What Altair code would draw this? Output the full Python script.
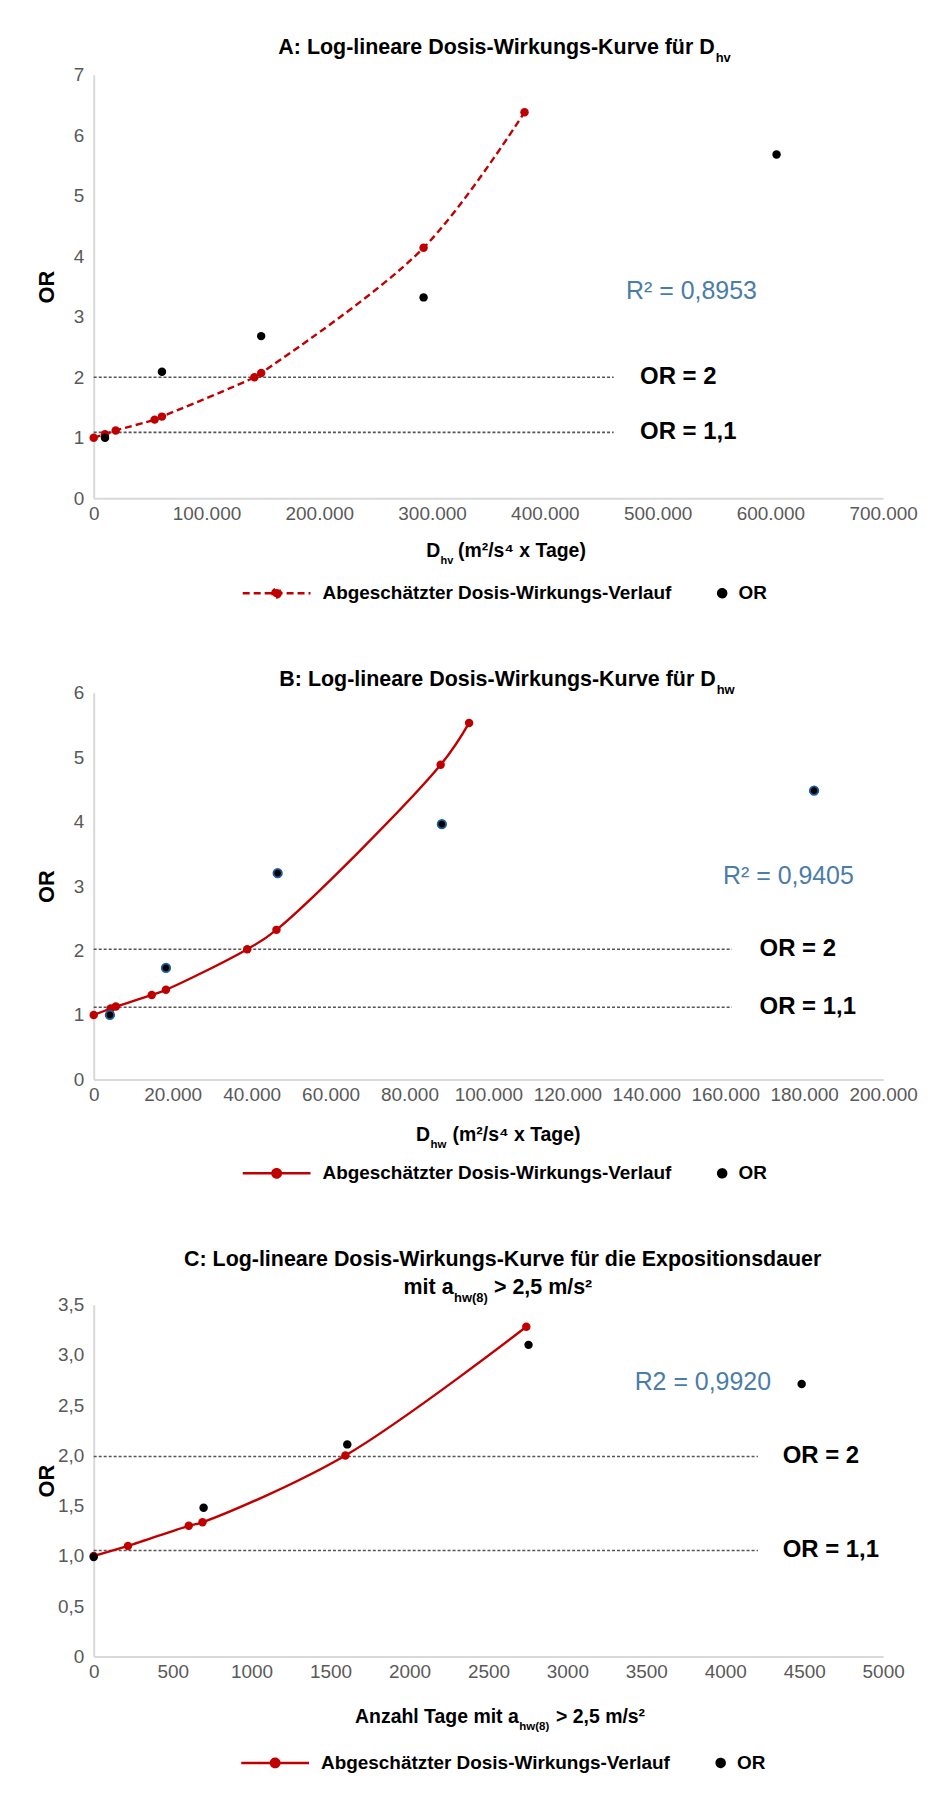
import altair as alt
import pandas as pd

FONT = "Liberation Sans, Arial, sans-serif"
RED = "#C00000"
BLUE_TXT = "#4A7DA8"
PT_BLUE = "#1F5C99"
GRAY = "#595959"
AXIS_GRAY = "#D9D9D9"
SER = "Abgeschätzter Dosis-Wirkungs-Verlauf"

# ---------------- Panel A data ----------------
a_curve_x = [0, 10000, 19500, 54000, 60500, 142500, 148500, 292500, 382000]
a_curve_y = [1.00, 1.06, 1.12, 1.30, 1.35, 2.00, 2.07, 4.14, 6.38]
a_or_x = [10000, 60500, 148500, 292500, 605500]
a_or_y = [1.00, 2.09, 2.68, 3.32, 5.68]
a_ref_y = [2.0, 1.09]
a_ref_labels = ["OR = 2", "OR = 1,1"]
a_ref_end = 461000
a_ref_label_x = 484500
a_r2 = ["R² = 0,8953"]
a_r2_x = [530000]
a_r2_y = [3.43]
a_xticks = [0, 100000, 200000, 300000, 400000, 500000, 600000, 700000]
a_yticks = [0, 1, 2, 3, 4, 5, 6, 7]

# ---------------- Panel B data ----------------
b_curve_x = [0, 4300, 5600, 14700, 18300, 38900, 46300, 87900, 95100]
b_curve_y = [1.00, 1.10, 1.13, 1.31, 1.39, 2.02, 2.32, 4.88, 5.53]
b_or_x = [4100, 18300, 46600, 88200, 182500]
b_or_y = [1.00, 1.73, 3.20, 3.96, 4.48]
b_ref_y = [2.02, 1.12]
b_ref_labels = ["OR = 2", "OR = 1,1"]
b_ref_end = 161700
b_ref_label_x = 168700
b_r2 = ["R² = 0,9405"]
b_r2_x = [176000]
b_r2_y = [3.16]
b_xticks = [0, 20000, 40000, 60000, 80000, 100000, 120000, 140000, 160000, 180000, 200000]
b_yticks = [0, 1, 2, 3, 4, 5, 6]

# ---------------- Panel C data ----------------
c_curve_x = [0, 217, 602, 689, 1594, 2740]
c_curve_y = [1.00, 1.10, 1.30, 1.335, 2.00, 3.28]
c_or_x = [0, 696, 1606, 2754, 4484]
c_or_y = [0.99, 1.48, 2.11, 3.10, 2.71]
c_ref_y = [1.99, 1.055]
c_ref_labels = ["OR = 2", "OR = 1,1"]
c_ref_end = 4207
c_ref_label_x = 4364
c_r2 = ["R2 = 0,9920"]
c_r2_x = [3858]
c_r2_y = [2.73]
c_xticks = [0, 500, 1000, 1500, 2000, 2500, 3000, 3500, 4000, 4500, 5000]
c_yticks = [0, 0.5, 1.0, 1.5, 2.0, 2.5, 3.0, 3.5]

W = 792
# legend symbols (unit paths scaled by sqrt(size)/2 = 10 px)
LINE_PATH = "M-6.35,0H0.45M-2.53,0A0.42,0.42,0,1,1,-3.37,0A0.42,0.42,0,1,1,-2.53,0"
DOT_PATH = "M0.4,0A0.4,0.4,0,1,1,-0.4,0A0.4,0.4,0,1,1,0.4,0"

DE_THOUSANDS = "replace(format(datum.value, ','), ',', '.')"
DE_DECIMAL = "datum.value == 0 ? '0' : replace(format(datum.value, '.1f'), '.', ',')"


def make_legend(dashed, lx, ly):
    dash = "[7,4]" if dashed else "[1,0]"
    return alt.Legend(
        title=None,
        orient="none",
        legendX=lx,
        legendY=ly,
        direction="horizontal",
        symbolType={"expr": f"datum.value === 'OR' ? '{DOT_PATH}' : '{LINE_PATH}'"},
        symbolSize=400,
        symbolStrokeColor={"expr": f"datum.value === 'OR' ? '#000000' : '{RED}'"},
        symbolDash={"expr": f"datum.value === 'OR' ? [1,0] : {dash}"},
        symbolStrokeWidth=2.5,
        symbolOpacity=1,
        labelFont=FONT,
        labelFontSize=19,
        labelFontWeight="bold",
        labelColor="black",
        labelOffset=5,
        labelLimit=0,
        columnPadding=38.5,
        padding=0,
    )


def panel(curve_x, curve_y, or_x, or_y, ref_y, ref_labels, ref_end, ref_label_x,
          r2, r2_x, r2_y, xticks, xlabel_expr, xformat, yticks, ylabel_expr,
          H, dashed, or_outline, title_parts, xtitle_parts, legend_xy):
    xdom = [xticks[0], xticks[-1]]
    ydom = [yticks[0], yticks[-1]]

    xaxis = alt.Axis(
        values=xticks, title=None, grid=False, ticks=False,
        domainColor=AXIS_GRAY, domainWidth=2,
        labelFont=FONT, labelFontSize=19, labelColor=GRAY, labelPadding=6,
        labelFlush=False, labelOverlap=False, labelBound=False,
        **({"labelExpr": xlabel_expr} if xlabel_expr else {"format": xformat}),
    )
    yaxis = alt.Axis(
        values=yticks, title="OR", grid=False, ticks=False,
        domainColor=AXIS_GRAY, domainWidth=2,
        labelFont=FONT, labelFontSize=19, labelColor=GRAY, labelPadding=10,
        labelExpr=ylabel_expr,
        titleFont=FONT, titleFontSize=22, titleFontWeight="bold", titleColor="black",
        titleAngle=270, titleX=-40, titleY=H / 2, titleAlign="center",
        titleBaseline="alphabetic",
    )

    def xenc(f):
        return alt.X(f, scale=alt.Scale(domain=xdom, nice=False, zero=True), axis=xaxis)

    def yenc(f):
        return alt.Y(f, scale=alt.Scale(domain=ydom, nice=False, zero=True), axis=yaxis)

    pts = pd.DataFrame({
        "x": curve_x + or_x,
        "y": curve_y + or_y,
        "series": [SER] * len(curve_x) + ["OR"] * len(or_x),
    })
    curve = pd.DataFrame({"x": curve_x, "y": curve_y})
    ors = pd.DataFrame({"x": or_x, "y": or_y})
    refs = pd.DataFrame({
        "y": ref_y, "x0": [0] * len(ref_y), "x1": [ref_end] * len(ref_y),
        "lx": [ref_label_x] * len(ref_y), "label": ref_labels,
    })
    r2df = pd.DataFrame({"x": r2_x, "y": r2_y, "t": r2})

    cscale = alt.Scale(domain=[SER, "OR"], range=[RED, "#000000"])

    rules = alt.Chart(refs).mark_rule(color="#555555", strokeWidth=1.6, strokeDash=[3, 2]).encode(
        x=xenc("x0:Q"), x2="x1:Q", y=yenc("y:Q"))

    line_kw = dict(color=RED, strokeWidth=2.4, interpolate="catmull-rom")
    if dashed:
        line_kw["strokeDash"] = [7, 4]
    line = alt.Chart(curve).mark_line(**line_kw).encode(x=xenc("x:Q"), y=yenc("y:Q"))

    points = alt.Chart(pts).mark_point(filled=True, size=72, opacity=1).encode(
        x=xenc("x:Q"), y=yenc("y:Q"),
        color=alt.Color("series:N", scale=cscale,
                        legend=make_legend(dashed, legend_xy[0], legend_xy[1])))

    layers = [rules, line, points]
    if or_outline:
        layers.append(alt.Chart(ors).mark_point(
            filled=True, size=72, opacity=1, fill="#000000", stroke=PT_BLUE, strokeWidth=1.8
        ).encode(x=xenc("x:Q"), y=yenc("y:Q")))

    layers.append(alt.Chart(refs).mark_text(
        align="left", baseline="middle", font=FONT, fontSize=24, fontWeight="bold", color="black"
    ).encode(x=xenc("lx:Q"), y=yenc("y:Q"), text="label:N"))

    layers.append(alt.Chart(r2df).mark_text(
        align="center", baseline="middle", font=FONT, fontSize=25, color=BLUE_TXT
    ).encode(x=xenc("x:Q"), y=yenc("y:Q"), text="t:N"))

    for txt, px, py, al, fs in title_parts + xtitle_parts:
        layers.append(alt.Chart(pd.DataFrame({"t": [txt]})).mark_text(
            align=al, baseline="alphabetic", font=FONT, fontSize=fs, fontWeight="bold", color="black"
        ).encode(x=alt.value(px), y=alt.value(py), text="t:N"))

    return alt.layer(*layers).properties(width=W, height=H)


HA, HB, HC = 425, 388, 353

chartA = panel(
    a_curve_x, a_curve_y, a_or_x, a_or_y, a_ref_y, a_ref_labels, a_ref_end, a_ref_label_x,
    a_r2, a_r2_x, a_r2_y, a_xticks, DE_THOUSANDS, None, a_yticks, "format(datum.value, 'd')",
    HA, True, False,
    [("A: Log-lineare Dosis-Wirkungs-Kurve für D", 623, -20.6, "right", 21.5),
     ("hv", 624, -13, "left", 13)],
    [("D", 347.6, HA + 58.5, "right", 19.5),
     ("hv", 348, HA + 65.6, "left", 11),
     ("(m²/s⁴ x Tage)", 365.4, HA + 58.5, "left", 19.5)],
    (201.5, 508.5),
)

chartB = panel(
    b_curve_x, b_curve_y, b_or_x, b_or_y, b_ref_y, b_ref_labels, b_ref_end, b_ref_label_x,
    b_r2, b_r2_x, b_r2_y, b_xticks, DE_THOUSANDS, None, b_yticks, "format(datum.value, 'd')",
    HB, False, True,
    [("B: Log-lineare Dosis-Wirkungs-Kurve für D", 624, -7, "right", 21.5),
     ("hw", 625, 1, "left", 13)],
    [("D", 337.5, HB + 62, "right", 19.5),
     ("hw", 338, HB + 69, "left", 11.5),
     ("(m²/s⁴ x Tage)", 360, HB + 62, "left", 19.5)],
    (201.5, 470.5),
)

chartC = panel(
    c_curve_x, c_curve_y, c_or_x, c_or_y, c_ref_y, c_ref_labels, c_ref_end, c_ref_label_x,
    c_r2, c_r2_x, c_r2_y, c_xticks, None, "d", c_yticks, DE_DECIMAL,
    HC, False, False,
    [("C: Log-lineare Dosis-Wirkungs-Kurve für die Expositionsdauer", 410.3, -39, "center", 21.5),
     ("mit a", 361, -11, "right", 21.5),
     ("hw(8)", 361.5, -3, "left", 13),
     ("> 2,5 m/s²", 401.6, -11, "left", 21.5)],
    [("Anzahl Tage mit a", 426.4, HC + 67, "right", 19.5),
     ("hw(8)", 427, HC + 73.7, "left", 11.5),
     ("> 2,5 m/s²", 463.8, HC + 67, "left", 19.5)],
    (200, 448),
)

chart = (
    alt.vconcat(chartA, chartB, chartC, spacing=64)
    .resolve_scale(color="independent", x="independent", y="independent")
    .resolve_legend(color="independent")
    .properties(padding={"left": 27, "top": 25, "right": 5, "bottom": 5}, background="white")
    .configure_view(stroke="transparent")
)

chart.save("out.html", embed_options={"renderer": "svg", "actions": False})
